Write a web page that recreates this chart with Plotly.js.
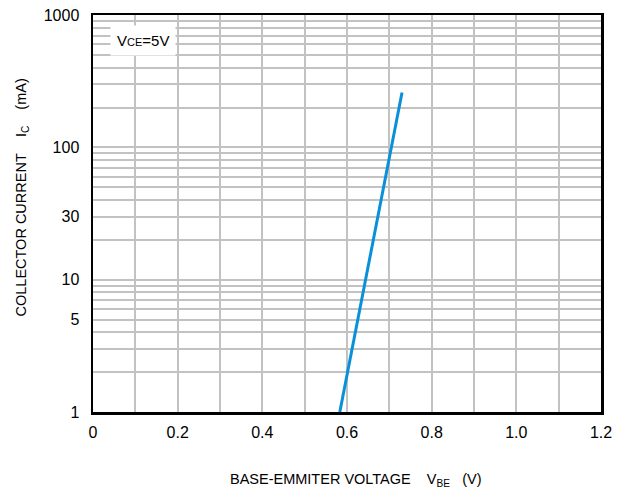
<!DOCTYPE html>
<html><head><meta charset="utf-8">
<script src="https://cdn.plot.ly/plotly-3.0.1.min.js"></script>
<style>body{margin:0;background:#fff}#c{width:627px;height:496px}</style>
</head><body><div id="c"></div>
<script>
const vbe = [0.583, 0.730];
const ic = [1, 260];
const xTicks = [0, 0.2, 0.4, 0.6, 0.8, 1.0, 1.2];
const xTickText = ['0', '0.2', '0.4', '0.6', '0.8', '1.0', '1.2'];
const yTicks = [1, 5, 10, 30, 100, 1000];
const yTickText = ['1', '5', '10', '30', '100', '1000'];

const minorY = [];
[1, 10, 100].forEach(d => { for (let k = 2; k <= 9; k++) if (!yTicks.includes(k * d)) minorY.push(k * d); });
const minorX = [];
for (let i = 1; i < 12; i += 2) minorX.push(i / 10);

const font = {family: 'Liberation Sans, Arial, sans-serif', color: '#000'};
const gc = '#c2c2c2', gw = 2;
const data = [{
  x: vbe, y: ic, type: 'scatter', mode: 'lines',
  line: {color: '#0a90d8', width: 3}, hoverinfo: 'skip'
}];
const layout = {
  width: 627, height: 496,
  margin: {l: 93, r: 26, t: 15, b: 84},
  paper_bgcolor: '#fff', plot_bgcolor: '#fff',
  showlegend: false,
  xaxis: {
    range: [0, 1.2], tickmode: 'array', tickvals: xTicks, ticktext: xTickText,
    showgrid: true, gridcolor: gc, gridwidth: gw,
    minor: {tickmode: 'array', tickvals: minorX, showgrid: true, gridcolor: gc, gridwidth: gw, ticks: ''},
    ticks: '', showline: true, linecolor: '#000', linewidth: 2.5, mirror: true,
    zeroline: false, tickfont: Object.assign({size: 16}, font), ticklabelstandoff: 4
  },
  yaxis: {
    type: 'log', range: [0, 3], tickmode: 'array', tickvals: yTicks, ticktext: yTickText,
    showgrid: true, gridcolor: gc, gridwidth: gw,
    minor: {tickmode: 'array', tickvals: minorY, showgrid: true, gridcolor: gc, gridwidth: gw, ticks: ''},
    ticks: '', ticklabelstandoff: 8,
    showline: true, linecolor: '#000', linewidth: 2.5, mirror: true,
    zeroline: false, tickfont: Object.assign({size: 16}, font)
  },
  annotations: [
    {xref: 'paper', yref: 'paper', x: 0.5, y: 0, xshift: 8, yshift: -68, showarrow: false,
     text: 'BASE-EMMITER VOLTAGE&nbsp;&nbsp;&nbsp;&nbsp;V<sub>BE</sub>&nbsp;&nbsp;&nbsp;(V)', font: Object.assign({size: 14.5}, font), xanchor: 'center', yanchor: 'middle'},
    {xref: 'paper', yref: 'paper', x: 0, y: 0.5, xshift: -72, yshift: 16, showarrow: false, textangle: -90,
     text: 'COLLECTOR CURRENT&nbsp;&nbsp;&nbsp;&nbsp;I<sub>C</sub>&nbsp;&nbsp;&nbsp;&nbsp;(mA)', font: Object.assign({size: 14.5}, font), xanchor: 'center', yanchor: 'middle'},
    {xref: 'paper', yref: 'paper', x: 0.034, y: 0.975, showarrow: false, xanchor: 'left', yanchor: 'top',
     text: 'V<span style="font-size:11px">CE</span>=5V', font: Object.assign({size: 15}, font),
     bgcolor: '#fff', borderpad: 6}
  ]
};
Plotly.newPlot('c', data, layout, {displayModeBar: false, staticPlot: true});
</script></body></html>
